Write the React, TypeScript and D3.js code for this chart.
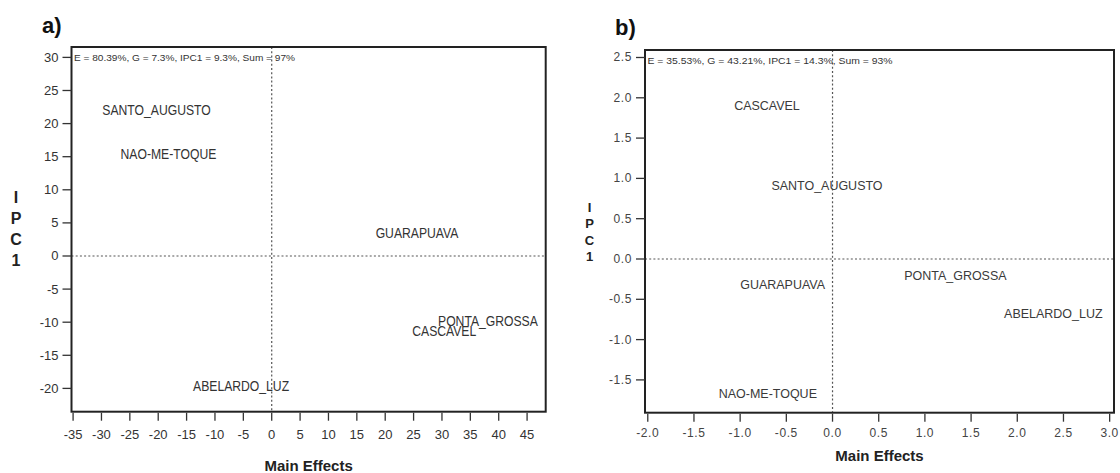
import React from "react";
import * as d3 from "d3";

// ---------- Data ----------
const aGenotypes = ["SANTO_AUGUSTO", "NAO-ME-TOQUE", "GUARAPUAVA", "PONTA_GROSSA", "CASCAVEL", "ABELARDO_LUZ"];
const aMainEffects = [-20.3, -18.2, 25.6, 38.1, 30.4, -5.4];
const aIPC1 = [22.0, 15.4, 3.4, -9.9, -11.4, -19.6];
const aXTicks = [-35, -30, -25, -20, -15, -10, -5, 0, 5, 10, 15, 20, 25, 30, 35, 40, 45];
const aYTicks = [-20, -15, -10, -5, 0, 5, 10, 15, 20, 25, 30];
const aXDomain = [-35.28, 48.28];
const aYDomain = [-23.52, 31.57];
const aNote = "E = 80.39%, G = 7.3%, IPC1 = 9.3%, Sum = 97%";

const bGenotypes = ["CASCAVEL", "SANTO_AUGUSTO", "GUARAPUAVA", "PONTA_GROSSA", "ABELARDO_LUZ", "NAO-ME-TOQUE"];
const bMainEffects = [-0.71, -0.06, -0.54, 1.33, 2.39, -0.70];
const bIPC1 = [1.9, 0.91, -0.31, -0.2, -0.67, -1.67];
const bXTicks = [-2.0, -1.5, -1.0, -0.5, 0.0, 0.5, 1.0, 1.5, 2.0, 2.5, 3.0];
const bYTicks = [-1.5, -1.0, -0.5, 0.0, 0.5, 1.0, 1.5, 2.0, 2.5];
const bXDomain = [-2.03, 3.047];
const bYDomain = [-1.907, 2.593];
const bNote = "E = 35.53%, G = 43.21%, IPC1 = 14.3%, Sum = 93%";

const xTitle = "Main Effects";
const yTitleLetters = ["I", "P", "C", "1"];

const FONT = "'Liberation Sans', Arial, sans-serif";

const hyphen = (s: string) => s.replace(/\u2212/g, "-");

type PanelProps = {
  tag: string;
  tagX: number;
  tagY: number;
  box: { l: number; r: number; t: number; b: number };
  xDomain: number[];
  yDomain: number[];
  xTicks: number[];
  yTicks: number[];
  fmt: (v: number) => string;
  names: string[];
  xs: number[];
  ys: number[];
  note: string;
  noteWidth: number;
  labelSize: number;
  labelScale: number;
  labelColor: string;
  tickSize: number;
  tickColor: string;
  tickLetterSpacing: number;
  ipcX: number;
  ipcY0: number;
  ipcStep: number;
  ipcSize: number;
  titleY: number;
  titleSize: number;
  xLabelY: number;
};

function Panel(p: PanelProps) {
  const x = d3.scaleLinear().domain(p.xDomain).range([p.box.l, p.box.r]);
  const y = d3.scaleLinear().domain(p.yDomain).range([p.box.b, p.box.t]);
  const { l, r, t, b } = p.box;
  return (
    <g>
      <text x={p.tagX} y={p.tagY} fontFamily={FONT} fontWeight="bold" fontSize={22} fill="#111">
        {p.tag}
      </text>
      {/* reference dashed lines */}
      <line x1={x(0)} x2={x(0)} y1={t} y2={b} stroke="#555" strokeWidth={1.2} strokeDasharray="2,2.2" />
      <line x1={l} x2={r} y1={y(0)} y2={y(0)} stroke="#555" strokeWidth={1.2} strokeDasharray="2,2.2" />
      {/* box */}
      <rect x={l} y={t} width={r - l} height={b - t} fill="none" stroke="#222" strokeWidth={2} />
      {/* y ticks */}
      {p.yTicks.map((v) => (
        <g key={"y" + v}>
          <line x1={l - 9} x2={l} y1={y(v)} y2={y(v)} stroke="#333" strokeWidth={1.3} />
          <text
            x={l - 13}
            y={y(v)}
            textAnchor="end"
            dominantBaseline="central"
            fontFamily={FONT}
            fontSize={p.tickSize}
            fill={p.tickColor}
            letterSpacing={p.tickLetterSpacing}
          >
            {hyphen(p.fmt(v))}
          </text>
        </g>
      ))}
      {/* x ticks */}
      {p.xTicks.map((v) => (
        <g key={"x" + v}>
          <line x1={x(v)} x2={x(v)} y1={b + 1} y2={b + 9} stroke="#333" strokeWidth={1.3} />
          <text
            x={x(v)}
            y={p.xLabelY}
            textAnchor="middle"
            dominantBaseline="central"
            fontFamily={FONT}
            fontSize={p.tickSize}
            fill={p.tickColor}
            letterSpacing={p.tickLetterSpacing}
          >
            {hyphen(p.fmt(v))}
          </text>
        </g>
      ))}
      {/* note */}
      <text
        x={l + 2.5}
        y={t + 10}
        dominantBaseline="central"
        fontFamily={FONT}
        fontSize={9.5}
        fill="#333"
        textLength={p.noteWidth}
        lengthAdjust="spacingAndGlyphs"
      >
        {p.note}
      </text>
      {/* genotype labels */}
      {p.names.map((n, i) => (
        <text
          key={n}
          transform={`translate(${x(p.xs[i])},${y(p.ys[i])}) scale(${p.labelScale},1)`}
          textAnchor="middle"
          dominantBaseline="central"
          fontFamily={FONT}
          fontSize={p.labelSize}
          fill={p.labelColor}
        >
          {n}
        </text>
      ))}
      {/* x title */}
      <text
        x={(l + r) / 2}
        y={p.titleY}
        textAnchor="middle"
        dominantBaseline="central"
        fontFamily={FONT}
        fontWeight="bold"
        fontSize={p.titleSize}
        fill="#222"
      >
        {xTitle}
      </text>
      {/* y title stacked */}
      {yTitleLetters.map((c, i) => (
        <text
          key={"t" + i}
          x={p.ipcX}
          y={p.ipcY0 + i * p.ipcStep}
          textAnchor="middle"
          dominantBaseline="central"
          fontFamily={FONT}
          fontWeight="bold"
          fontSize={p.ipcSize}
          fill="#222"
        >
          {c}
        </text>
      ))}
    </g>
  );
}

export default function App() {
  return (
    <svg
      width={1120}
      height={473}
      style={{ position: "absolute", left: 0, top: 0, background: "#fff" }}
    >
      <rect x={0} y={0} width={1120} height={473} fill="#fff" />
      <Panel
        tag="a)"
        tagX={42}
        tagY={33}
        box={{ l: 71.5, r: 545.7, t: 47, b: 411.7 }}
        xDomain={aXDomain}
        yDomain={aYDomain}
        xTicks={aXTicks}
        yTicks={aYTicks}
        fmt={(v) => d3.format("d")(v)}
        names={aGenotypes}
        xs={aMainEffects}
        ys={aIPC1}
        note={aNote}
        noteWidth={221}
        labelSize={14.5}
        labelScale={0.84}
        labelColor="#333"
        tickSize={13}
        tickColor="#333"
        tickLetterSpacing={0}
        ipcX={16}
        ipcY0={197}
        ipcStep={21.3}
        ipcSize={16}
        titleY={465}
        titleSize={15}
        xLabelY={434.5}
      />
      <Panel
        tag="b)"
        tagX={615}
        tagY={35}
        box={{ l: 645, r: 1114, t: 50, b: 412.7 }}
        xDomain={bXDomain}
        yDomain={bYDomain}
        xTicks={bXTicks}
        yTicks={bYTicks}
        fmt={(v) => d3.format(".1f")(v)}
        names={bGenotypes}
        xs={bMainEffects}
        ys={bIPC1}
        note={bNote}
        noteWidth={245}
        labelSize={13}
        labelScale={0.96}
        labelColor="#3a3a3a"
        tickSize={12}
        tickColor="#444"
        tickLetterSpacing={0.6}
        ipcX={589.5}
        ipcY0={207}
        ipcStep={16.5}
        ipcSize={13}
        titleY={455}
        titleSize={15}
        xLabelY={432.5}
      />
    </svg>
  );
}
